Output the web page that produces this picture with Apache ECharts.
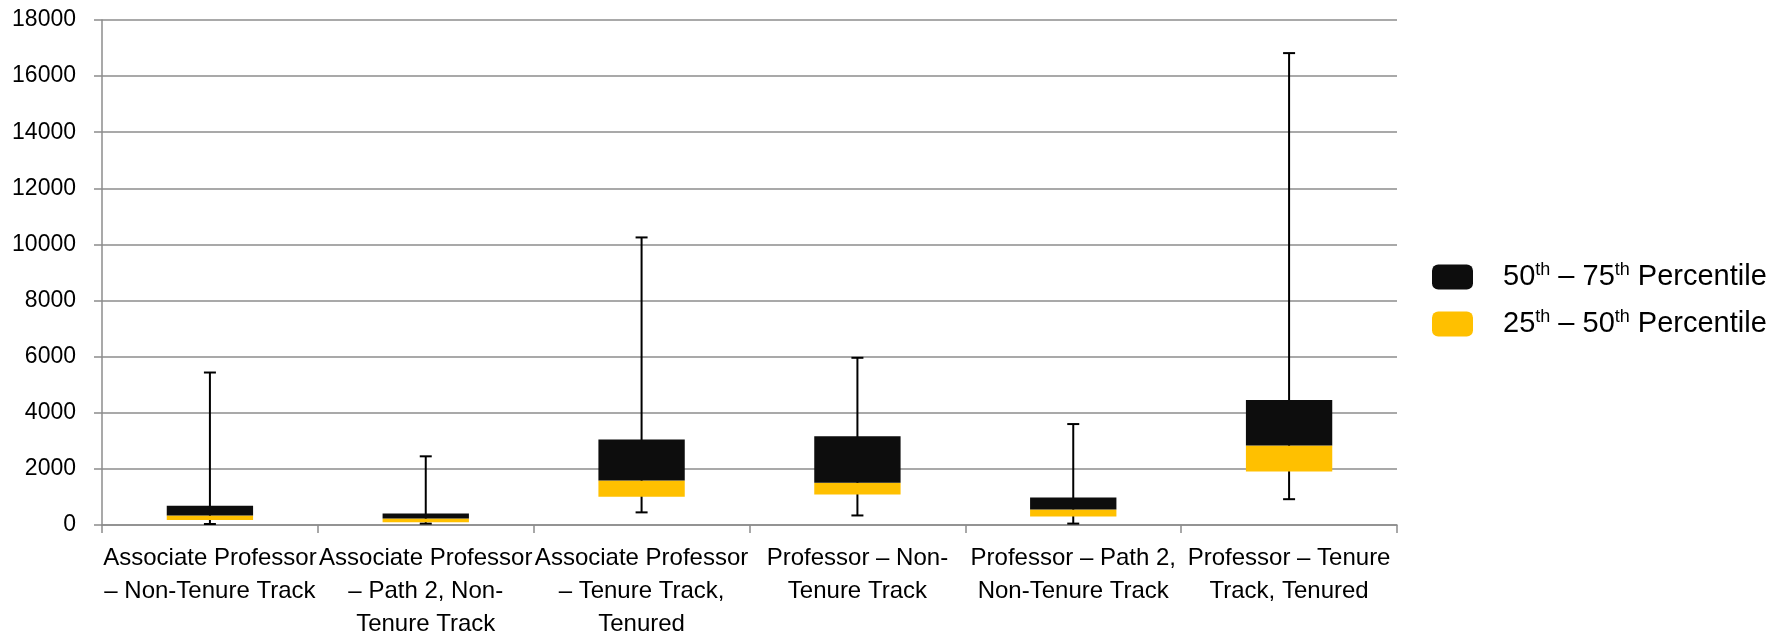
<!DOCTYPE html>
<html>
<head>
<meta charset="utf-8">
<script src="https://cdn.jsdelivr.net/npm/echarts@6/dist/echarts.min.js"></script>
<style>
html,body{margin:0;padding:0;background:#fff;}
#chart{width:1784px;height:641px;}
</style>
</head>
<body>
<div id="chart"></div>
<script>
const categories = [
  "Associate Professor\n– Non-Tenure Track",
  "Associate Professor\n– Path 2, Non-\nTenure Track",
  "Associate Professor\n– Tenure Track,\nTenured",
  "Professor – Non-\nTenure Track",
  "Professor – Path 2,\nNon-Tenure Track",
  "Professor – Tenure\nTrack, Tenured"
];
const minValues    = [35, 50, 450, 340, 50, 920];
const p25Values    = [175, 95, 1010, 1085, 300, 1905];
const medianValues = [342, 236, 1588, 1506, 554, 2836];
const p75Values    = [684, 413, 3048, 3164, 977, 4459];
const maxValues    = [5435, 2448, 10250, 5960, 3598, 16820];
const yTicks = [0, 2000, 4000, 6000, 8000, 10000, 12000, 14000, 16000, 18000];

const nameUpper = "50th – 75th Percentile";
const nameLower = "25th – 50th Percentile";

const FONT = "'Liberation Sans', Arial, sans-serif";

const lowerBand = p25Values.map((v, i) => medianValues[i] - v);
const upperBand = medianValues.map((v, i) => p75Values[i] - v);
const whiskerData = categories.map((c, i) => [i, minValues[i], maxValues[i]]);

const chart = echarts.init(document.getElementById('chart'), null, {renderer: 'canvas'});
chart.setOption({
  animation: false,
  backgroundColor: '#ffffff',
  grid: {left: 102, right: 387, top: 20, bottom: 111, containLabel: false},
  legend: {
    orient: 'vertical',
    left: 1432,
    top: 261,
    padding: 0,
    itemWidth: 41,
    itemHeight: 25,
    itemGap: 16,
    icon: 'roundRect',
    data: [nameUpper, nameLower],
    formatter: function (name) {
      const m = name.match(/^(\d+)th – (\d+)th (.*)$/);
      return '{g| }{n|' + m[1] + '}{s|th}{n| – ' + m[2] + '}{s|th}{n| ' + m[3] + '}';
    },
    textStyle: {
      fontFamily: FONT,
      color: '#000',
      rich: {
        g: {width: 25, fontSize: 29, fontFamily: FONT},
        n: {fontSize: 29, fontFamily: FONT, color: '#000', lineHeight: 32},
        s: {fontSize: 18, fontFamily: FONT, color: '#000', verticalAlign: 'top', lineHeight: 18, padding: [0, 0, 13, 0]}
      }
    }
  },
  xAxis: {
    type: 'category',
    data: categories,
    axisLine: {show: true, lineStyle: {color: '#8c8c8c', width: 1.5}},
    axisTick: {show: true, length: 8, alignWithLabel: false, lineStyle: {color: '#8c8c8c', width: 1.5}},
    axisLabel: {
      interval: 0,
      color: '#000',
      fontFamily: FONT,
      fontSize: 24,
      lineHeight: 33,
      margin: 17,
      align: 'center'
    },
    splitLine: {show: false}
  },
  yAxis: {
    type: 'value',
    min: 0,
    max: yTicks[yTicks.length - 1],
    interval: yTicks[1] - yTicks[0],
    axisLine: {show: true, lineStyle: {color: '#8c8c8c', width: 1.5}},
    axisTick: {show: true, length: 8, lineStyle: {color: '#8c8c8c', width: 1.5}},
    axisLabel: {color: '#000', fontFamily: FONT, fontSize: 23, margin: 26, formatter: function (v) { return String(v); }},
    splitLine: {show: true, lineStyle: {color: '#8c8c8c', width: 1.5}}
  },
  series: [
    {
      type: 'custom',
      name: 'whisker',
      z: 1,
      silent: true,
      data: whiskerData,
      encode: {x: 0, y: [1, 2]},
      renderItem: function (params, api) {
        const x = api.value(0);
        const lo = api.coord([x, api.value(1)]);
        const hi = api.coord([x, api.value(2)]);
        const cap = 6;
        const style = {stroke: '#000', lineWidth: 2};
        return {
          type: 'group',
          children: [
            {type: 'line', shape: {x1: lo[0], y1: lo[1], x2: hi[0], y2: hi[1]}, style: style},
            {type: 'line', shape: {x1: hi[0] - cap, y1: hi[1], x2: hi[0] + cap, y2: hi[1]}, style: style},
            {type: 'line', shape: {x1: lo[0] - cap, y1: lo[1], x2: lo[0] + cap, y2: lo[1]}, style: style}
          ]
        };
      }
    },
    {
      type: 'bar',
      name: 'base',
      stack: 'box',
      z: 2,
      barWidth: '40%',
      silent: true,
      itemStyle: {color: 'rgba(0,0,0,0)'},
      data: p25Values
    },
    {
      type: 'bar',
      name: nameLower,
      stack: 'box',
      z: 3,
      barWidth: '40%',
      itemStyle: {color: '#FFC000'},
      data: lowerBand
    },
    {
      type: 'bar',
      name: nameUpper,
      stack: 'box',
      z: 3,
      barWidth: '40%',
      itemStyle: {color: '#0D0D0D'},
      data: upperBand
    }
  ]
});
</script>
</body>
</html>
